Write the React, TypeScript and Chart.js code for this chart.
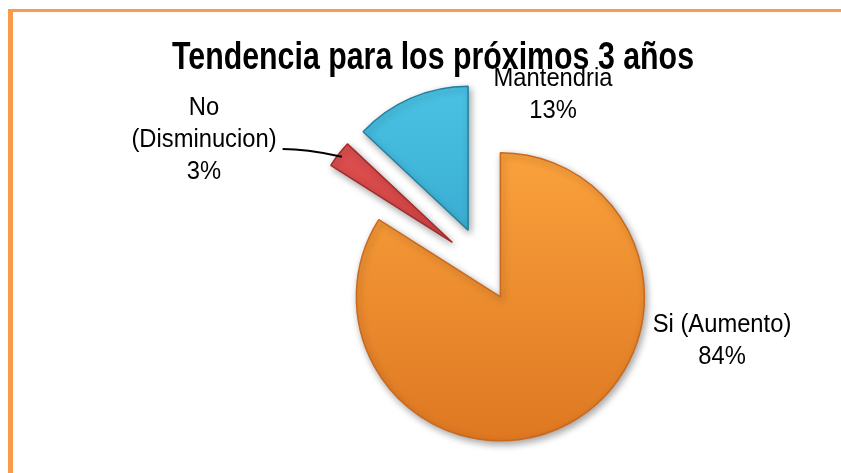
import React, { useEffect, useRef } from 'react';
import { Chart, registerables } from 'chart.js';

Chart.register(...registerables);

const titleText = 'Tendencia para los próximos 3 años';
const categories = ['Si (Aumento)', 'No (Disminucion)', 'Mantendria'];
const labelLines = [['Si (Aumento)'], ['No', '(Disminucion)'], ['Mantendria']];
const values = [84, 3, 13];

const colorsTop = ['#FAA13C', '#E65454', '#4AC2E4'];
const colorsBottom = ['#DE7822', '#BC3434', '#2A9AC0'];
const borderColors = ['#C9681E', '#A02C2C', '#237F9F'];
const explode = [34, 40, 40];
// first-line centre of each label block, relative to the pie centre
const labelOffsets = [
  [238, 58],
  [-280, -159],
  [69, -188],
];
const LINE_GAP = 32;
const RADIUS = 144;

const explodePlugin = {
  id: 'explodePie',
  beforeDraw(chart: any) {
    const ctx = chart.ctx;
    ctx.save();
    ctx.fillStyle = '#ffffff';
    ctx.fillRect(0, 0, chart.width, chart.height);
    ctx.fillStyle = '#F99B4D';
    ctx.fillRect(8, 9, 5, chart.height - 9);
    ctx.fillRect(8, 9, chart.width - 8, 3);
    // title (condensed bold, as in the reference)
    ctx.font = 'bold 38px "Liberation Sans", Arial, sans-serif';
    ctx.fillStyle = '#000';
    ctx.textAlign = 'left';
    ctx.textBaseline = 'alphabetic';
    const w = ctx.measureText(titleText).width;
    const s = 522 / w;
    ctx.translate(172, 69);
    ctx.scale(s, 1);
    ctx.fillText(titleText, 0, 0);
    ctx.restore();
  },
  beforeDatasetsDraw(chart: any) {
    const ctx = chart.ctx;
    const meta = chart.getDatasetMeta(0);
    meta.data.forEach((arc: any, i: number) => {
      const mid = (arc.startAngle + arc.endAngle) / 2;
      ctx.save();
      ctx.translate(Math.cos(mid) * explode[i], Math.sin(mid) * explode[i]);
      ctx.shadowColor = 'rgba(0,0,0,0.35)';
      ctx.shadowBlur = 7;
      ctx.shadowOffsetX = 2;
      ctx.shadowOffsetY = 3;
      arc.draw(ctx);
      ctx.restore();
    });
    return false;
  },
  afterDraw(chart: any) {
    const ctx = chart.ctx;
    const meta = chart.getDatasetMeta(0);
    const data = chart.data.datasets[0].data as number[];
    const total = data.reduce((a, b) => a + b, 0);
    ctx.save();
    ctx.font = '25px "Liberation Sans", Arial, sans-serif';
    ctx.fillStyle = '#000';
    ctx.textAlign = 'center';
    ctx.textBaseline = 'middle';
    meta.data.forEach((arc: any, i: number) => {
      const lines = [...labelLines[i], Math.round((data[i] / total) * 100) + '%'];
      const bx = arc.x + labelOffsets[i][0];
      const by = arc.y + labelOffsets[i][1];
      lines.forEach((t, k) => {
        ctx.save();
        ctx.translate(bx, by + k * LINE_GAP);
        ctx.scale(0.95, 1);
        ctx.fillText(t, 0, 0);
        ctx.restore();
      });
      if (i === 1) {
        const w = ctx.measureText(lines[1]).width * 0.95;
        const sx = bx + w / 2 + 6;
        const sy = by + LINE_GAP + 9;
        const mid = (arc.startAngle + arc.endAngle) / 2;
        const ax = arc.x + Math.cos(mid) * explode[i];
        const ay = arc.y + Math.sin(mid) * explode[i];
        const ex = ax + Math.cos(mid) * (arc.outerRadius - 4);
        const ey = ay + Math.sin(mid) * (arc.outerRadius - 4);
        ctx.beginPath();
        ctx.moveTo(sx, sy);
        ctx.bezierCurveTo(sx + 25, sy, ex - 14, ey - 3, ex, ey);
        ctx.lineWidth = 2;
        ctx.strokeStyle = '#000';
        ctx.stroke();
      }
    });
    ctx.restore();
  },
};

export default function App() {
  const ref = useRef<HTMLCanvasElement>(null);
  useEffect(() => {
    if (!ref.current) return;
    const chart = new Chart(ref.current, {
      type: 'pie',
      data: {
        labels: categories,
        datasets: [
          {
            data: values,
            backgroundColor: (c: any) => {
              const ch = c.chart;
              const i = c.dataIndex;
              if (!ch.chartArea || i === undefined) return colorsTop[i ?? 0];
              const cy = (ch.chartArea.top + ch.chartArea.bottom) / 2;
              const g = ch.ctx.createLinearGradient(0, cy - RADIUS, 0, cy + RADIUS);
              g.addColorStop(0, colorsTop[i]);
              g.addColorStop(1, colorsBottom[i]);
              return g;
            },
            borderColor: borderColors,
            borderWidth: 1.5,
            offset: 0,
            hoverOffset: 0,
          },
        ],
      },
      options: {
        responsive: false,
        animation: false,
        devicePixelRatio: 1,
        radius: RADIUS,
        layout: { padding: { left: 127, right: 0, top: 61, bottom: 0 } },
        plugins: {
          legend: { display: false },
          tooltip: { enabled: false },
          title: { display: false },
        },
      } as any,
      plugins: [explodePlugin],
    });
    return () => chart.destroy();
  }, []);
  return (
    <div style={{ position: 'absolute', left: 0, top: 0, width: 841, height: 473, background: '#fff' }}>
      <canvas ref={ref} width={841} height={473} style={{ display: 'block' }} />
    </div>
  );
}
